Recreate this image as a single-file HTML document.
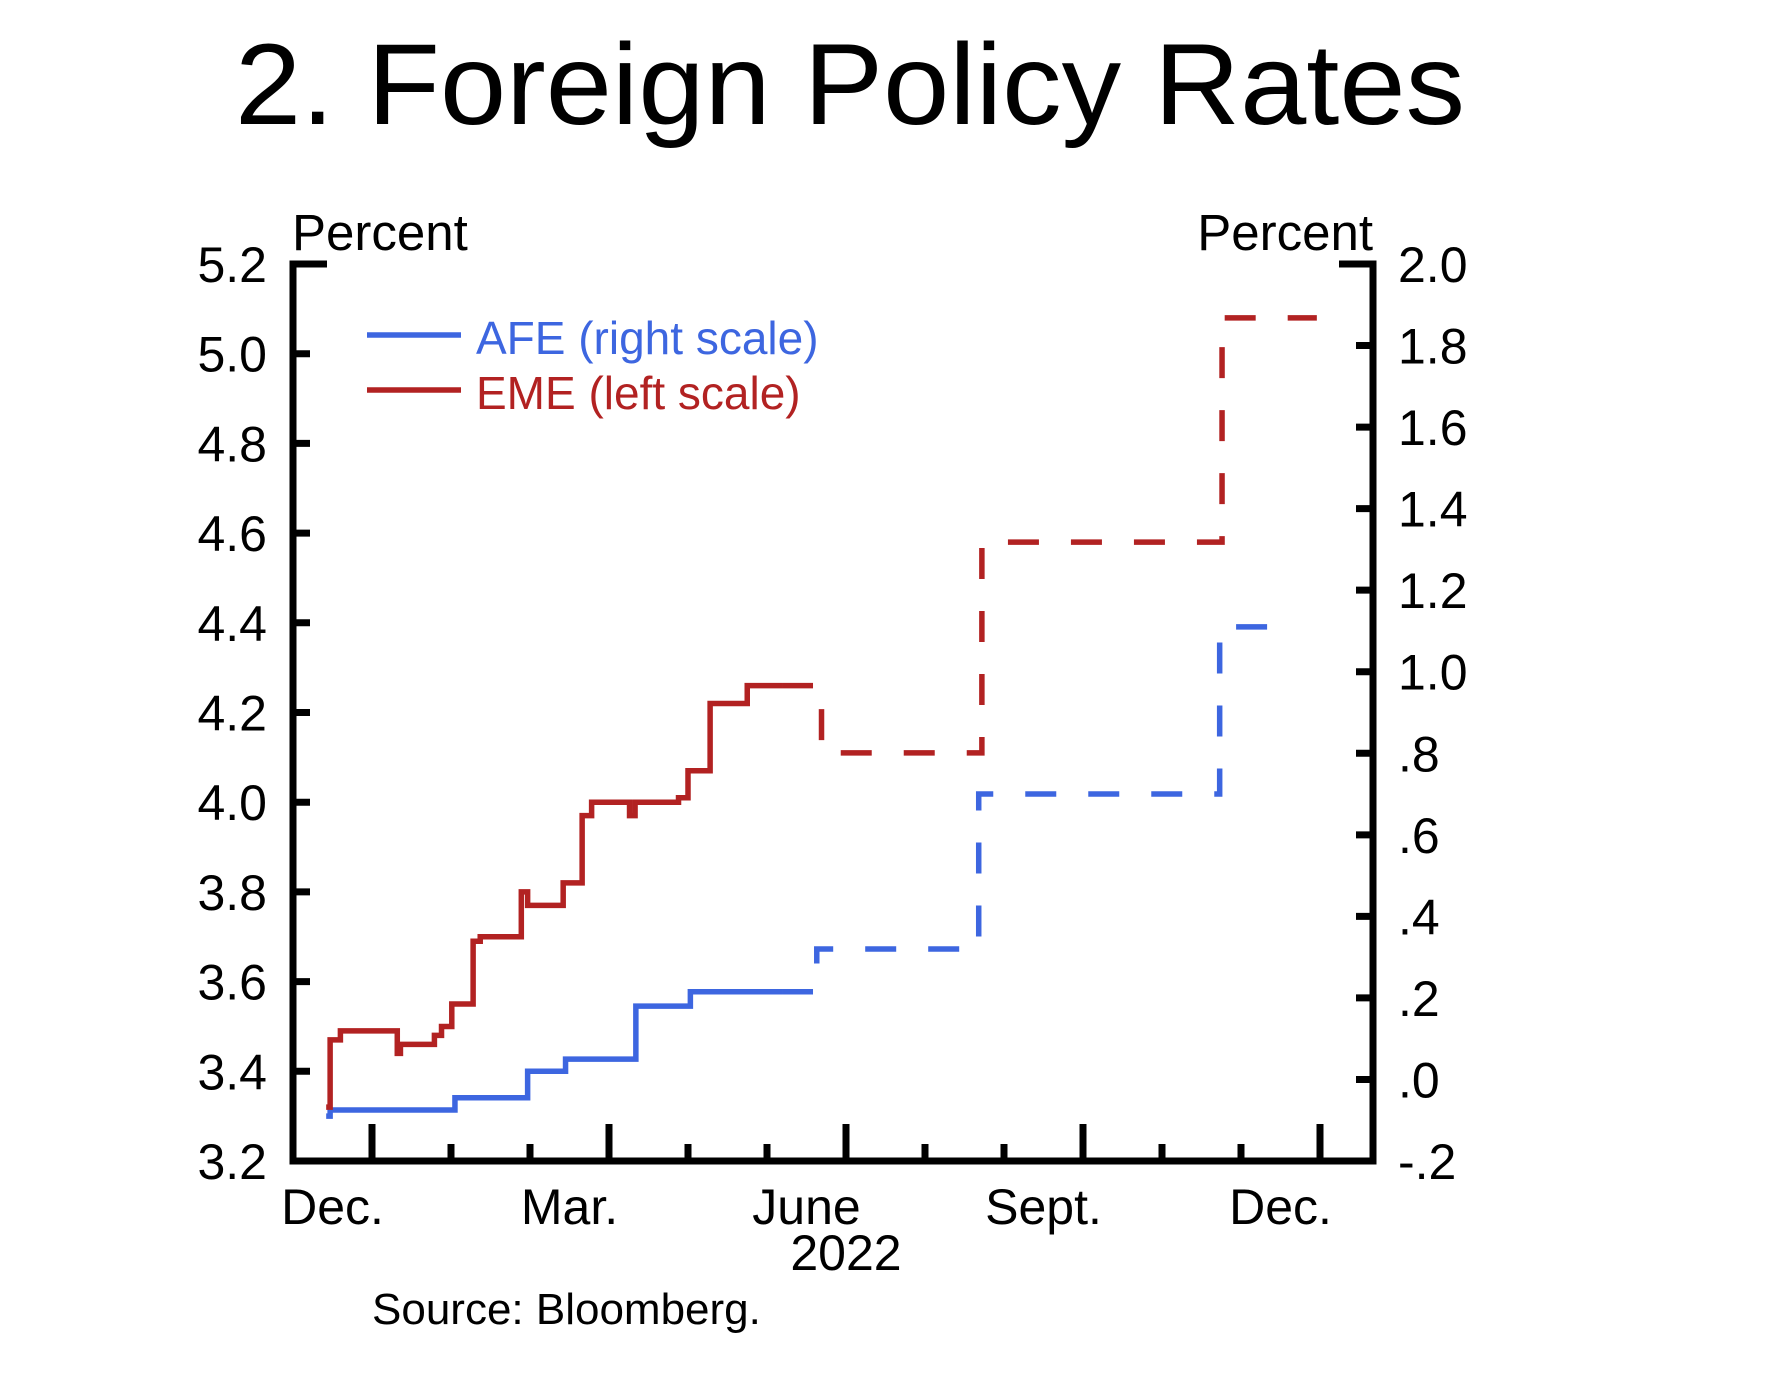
<!DOCTYPE html>
<html><head><meta charset="utf-8"><style>
html,body{margin:0;padding:0;background:#fff;}
svg{display:block;}
text{font-family:"Liberation Sans",sans-serif;}
</style></head><body>
<svg id="chart" width="1788" height="1386" viewBox="0 0 1788 1386" xmlns="http://www.w3.org/2000/svg">
<text x="235" y="124" font-size="115" textLength="1230" lengthAdjust="spacingAndGlyphs" fill="#000">2. Foreign Policy Rates</text>
<g id="axes"></g>
<g id="series"></g>
<g>
<line x1="367" y1="335" x2="461" y2="335" stroke="#3d66e0" stroke-width="5.5"/>
<text x="476" y="354" font-size="46" fill="#3d66e0">AFE (right scale)</text>
<line x1="367" y1="390" x2="461" y2="390" stroke="#b22222" stroke-width="5.5"/>
<text x="476" y="409" font-size="46" fill="#b22222">EME (left scale)</text>
</g>
<text x="292" y="250" font-size="51">Percent</text>
<text x="1373" y="250" font-size="51" text-anchor="end">Percent</text>
<text x="846" y="1270" font-size="50" text-anchor="middle">2022</text>
<text x="372" y="1324" font-size="44">Source: Bloomberg.</text>
</svg>
<script>
const leftTicks = [3.2,3.4,3.6,3.8,4.0,4.2,4.4,4.6,4.8,5.0,5.2];
const leftTickLabels = ["3.2","3.4","3.6","3.8","4.0","4.2","4.4","4.6","4.8","5.0","5.2"];
const rightTicks = [-0.2,0,0.2,0.4,0.6,0.8,1.0,1.2,1.4,1.6,1.8,2.0];
const rightTickLabels = ["-.2",".0",".2",".4",".6",".8","1.0","1.2","1.4","1.6","1.8","2.0"];
const monthTicks = [1,2,3,4,5,6,7,8,9,10,11,12,13];
const majorMonthTicks = [1,4,7,10,13];
const monthLabels = ["Dec.","Mar.","June","Sept.","Dec."];
const monthLabelPos = [0.5,3.5,6.5,9.5,12.5];
// EME (left scale) actual path
const emeMonths = [0.42,0.47,0.60,1.32,1.36,1.79,1.88,2.01,2.28,2.37,2.89,2.97,3.42,3.66,3.78,4.26,4.33,4.88,5.00,5.28,5.75,6.19];
const emeValues = [3.32,3.47,3.49,3.44,3.46,3.48,3.50,3.55,3.69,3.70,3.80,3.77,3.82,3.97,4.00,3.97,4.00,4.01,4.07,4.22,4.26,4.26];
// EME implied path (dashed)
const emeFwdMonths = [6.19,6.69,8.72,11.76,12.96];
const emeFwdValues = [4.26,4.11,4.58,5.08,5.08];
// AFE (right scale) actual path
const afeMonths = [0.42,0.47,2.05,2.97,3.45,4.34,5.03,6.19];
const afeValues = [-0.09,-0.075,-0.045,0.02,0.05,0.18,0.215,0.215];
// AFE implied path (dashed)
const afeFwdMonths = [6.19,6.63,8.68,11.73,12.67];
const afeFwdValues = [0.215,0.32,0.70,1.11,1.11];

const L=293,R=1373,T=264,B=1161;
const xS = m => 293 + m*79.0;
const yL = v => B - (v-3.2)/2.0*(B-T);
const yR = v => B - (v+0.2)/2.2*(B-T);
const NS="http://www.w3.org/2000/svg";
const axes=document.getElementById('axes'), ser=document.getElementById('series');
function mk(tag,attrs,parent){const e=document.createElementNS(NS,tag);for(const k in attrs)e.setAttribute(k,attrs[k]);parent.appendChild(e);return e;}

let frame=mk('path',{d:`M${L+34},${T} H${L} V${B} H${R} V${T} H${R-34}`,fill:'none',stroke:'#000','stroke-width':7},axes);



leftTicks.forEach((v,i)=>{
  const y=yL(v);
  if(i>0&&i<leftTicks.length-1){const t=mk('line',{x1:L,x2:L+17,y1:y,y2:y,stroke:'#000','stroke-width':7},axes);
  
  }
  const tx=mk('text',{x:267,y:y+18,'font-size':50,'text-anchor':'end'},axes);tx.textContent=leftTickLabels[i];
  
  
});
rightTicks.forEach((v,i)=>{
  const y=yR(v);
  if(i>0&&i<rightTicks.length-1){const t=mk('line',{x1:R-17,x2:R,y1:y,y2:y,stroke:'#000','stroke-width':7},axes);
  
  }
  const tx=mk('text',{x:1398,y:y+18,'font-size':50},axes);tx.textContent=rightTickLabels[i];
  
  
});
monthTicks.forEach(m=>{
  const x=xS(m), maj=majorMonthTicks.includes(m);
  const t=mk('line',{x1:x,x2:x,y1:B,y2:B-(maj?37:17),stroke:'#000','stroke-width':7},axes);
  
  
});
monthLabels.forEach((s,i)=>{
  const tx=mk('text',{x:xS(monthLabelPos[i]),y:1224,'font-size':50,'text-anchor':'middle'},axes);tx.textContent=s;
  
  
});

function step(ms,vs,ys){let d=`M${xS(ms[0])},${ys(vs[0])}`;for(let i=1;i<ms.length;i++){d+=` H${xS(ms[i])} V${ys(vs[i])}`;}return d;}
let p;
p=mk('path',{d:step(afeMonths,afeValues,yR),fill:'none',stroke:'#3d66e0','stroke-width':5.5},ser);


p=mk('path',{d:step(afeFwdMonths,afeFwdValues,yR),fill:'none',stroke:'#3d66e0','stroke-width':5.5,'stroke-dasharray':'31 32'},ser);


p=mk('path',{d:step(emeMonths,emeValues,yL),fill:'none',stroke:'#b22222','stroke-width':5.5},ser);


p=mk('path',{d:step(emeFwdMonths,emeFwdValues,yL),fill:'none',stroke:'#b22222','stroke-width':5.5,'stroke-dasharray':'31 32'},ser);


</script>
</body></html>
